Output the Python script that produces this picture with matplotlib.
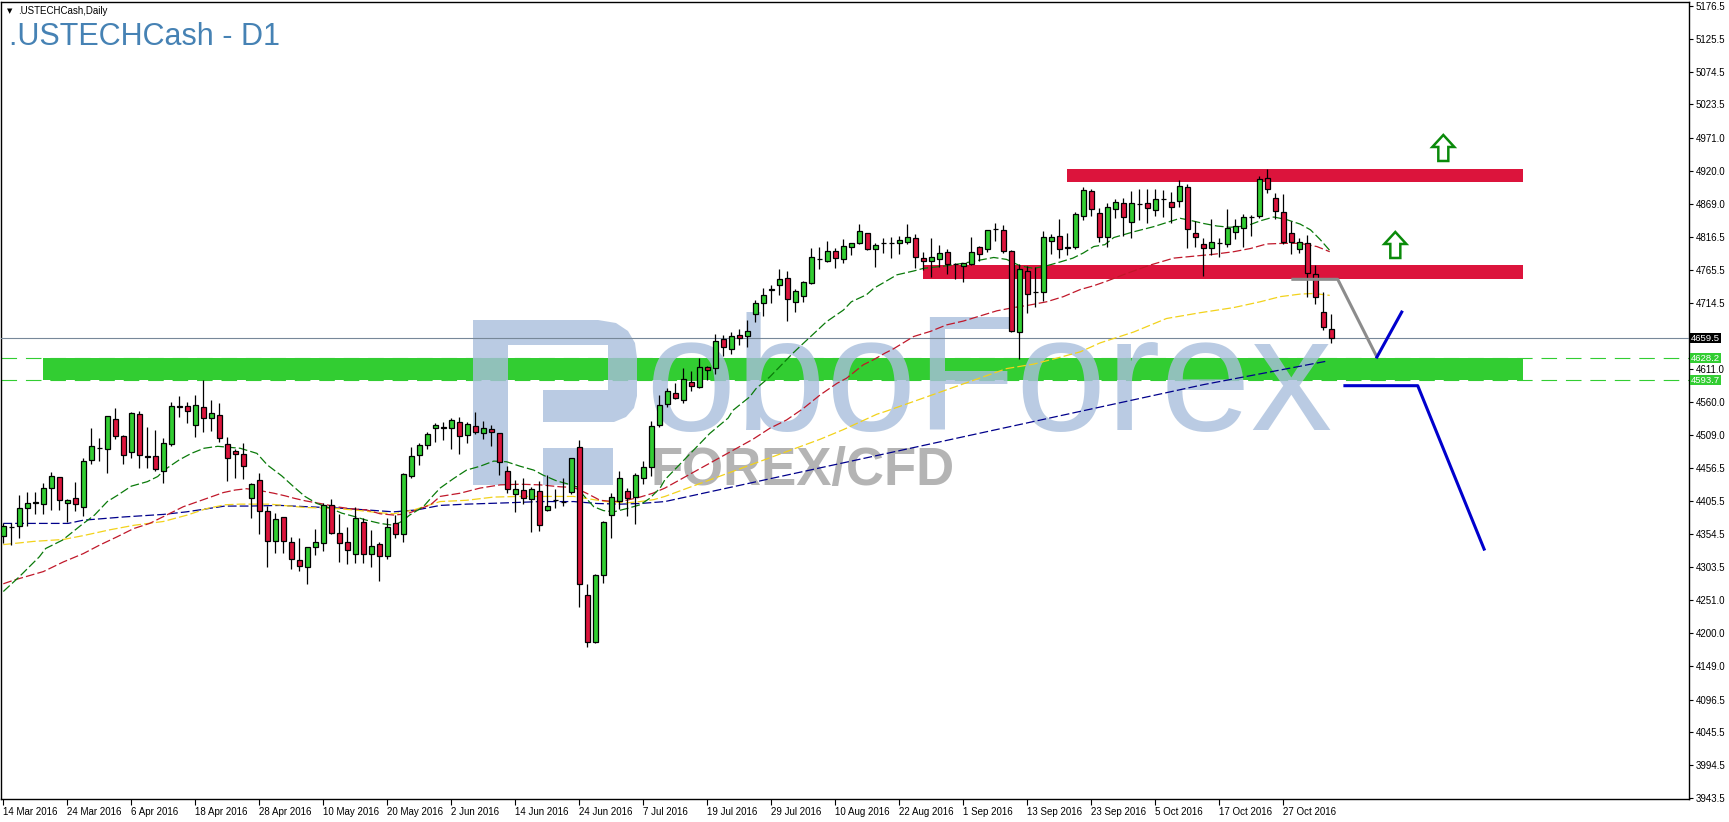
import numpy as np
import matplotlib
matplotlib.use("Agg")
import matplotlib.pyplot as plt
from matplotlib.patches import Rectangle, Polygon

# ---------------- data ----------------
opens = [4351.4, 4365.0, 4366.9, 4394.4, 4402.0, 4400.7, 4425.6, 4442.7, 4402.2, 4410.5,
         4397.0, 4469.2, 4488.5, 4486.3, 4533.0, 4506.5, 4481.6, 4541.3, 4476.0, 4475.4,
         4452.1, 4494.6, 4553.0, 4553.3, 4523.7, 4551.7, 4534.6, 4539.8, 4494.6, 4483.7,
         4478.5, 4410.0, 4438.1, 4389.8, 4344.1, 4380.4, 4342.6, 4314.0, 4302.6, 4334.8,
         4340.0, 4399.1, 4355.5, 4341.5, 4322.8, 4373.7, 4322.8, 4338.9, 4320.2, 4371.1,
         4354.0, 4445.3, 4477.0, 4492.5, 4520.1, 4519.5, 4519.0, 4528.4, 4508.1, 4522.1,
         4511.2, 4517.4, 4511.2, 4452.1, 4416.2, 4422.5, 4408.5, 4421.4, 4392.4, 4407.9,
         4403.8, 4420.4, 4489.4, 4259.0, 4185.8, 4290.1, 4383.5, 4405.9, 4421.9, 4411.6,
         4441.2, 4458.3, 4523.7, 4556.9, 4573.5, 4562.6, 4591.6, 4582.8, 4614.0, 4612.4,
         4657.6, 4642.0, 4663.8, 4662.2, 4696.5, 4713.6, 4735.0, 4741.6, 4752.5, 4716.2,
         4725.5, 4744.8, 4782.0, 4780.0, 4794.6, 4782.1, 4800.8, 4807.0, 4822.6, 4798.7,
         4807.0, 4808.0, 4807.0, 4808.6, 4814.8, 4783.6, 4780.0, 4783.1, 4793.0, 4775.3,
         4772.2, 4774.3, 4800.8, 4797.7, 4828.8, 4827.8, 4795.1, 4668.4, 4763.9, 4731.2,
         4731.7, 4811.2, 4817.9, 4800.3, 4800.8, 4850.1, 4888.5, 4854.7, 4816.3, 4859.9,
         4869.3, 4840.7, 4868.0, 4869.3, 4858.4, 4876.0, 4871.9, 4873.4, 4894.2, 4822.6,
         4805.4, 4800.2, 4807.0, 4805.9, 4825.1, 4830.3, 4847.3, 4850.1, 4908.2, 4877.0,
         4856.3, 4822.6, 4797.6, 4807.0, 4758.7, 4699.5, 4673.1]
highs = [4371.1, 4371.1, 4415.2, 4420.4, 4420.4, 4433.4, 4450.5, 4443.8, 4408.5, 4434.9,
         4472.3, 4519.5, 4504.0, 4538.5, 4550.1, 4508.6, 4545.0, 4546.0, 4521.6, 4515.9,
         4503.4, 4559.5, 4569.4, 4559.5, 4570.9, 4594.3, 4563.1, 4558.4, 4506.0, 4486.3,
         4495.7, 4433.4, 4448.9, 4398.6, 4386.7, 4381.0, 4350.3, 4347.7, 4334.5, 4361.8,
         4403.3, 4409.0, 4385.1, 4365.9, 4396.0, 4378.9, 4360.7, 4341.5, 4379.9, 4383.6,
         4448.9, 4489.4, 4495.7, 4512.8, 4526.8, 4528.4, 4534.6, 4537.2, 4528.4, 4543.9,
         4530.4, 4524.2, 4512.0, 4460.4, 4438.6, 4441.2, 4428.2, 4437.5, 4446.3, 4424.0,
         4441.2, 4472.5, 4500.8, 4276.1, 4291.7, 4374.2, 4418.8, 4453.1, 4425.6, 4448.9,
         4468.1, 4530.4, 4570.9, 4581.3, 4589.0, 4612.4, 4608.8, 4628.0, 4616.6, 4665.3,
         4664.3, 4668.5, 4673.6, 4687.7, 4718.8, 4737.0, 4742.2, 4767.1, 4764.5, 4735.4,
         4748.4, 4799.2, 4801.8, 4810.7, 4799.2, 4813.8, 4808.0, 4837.1, 4823.0, 4808.1,
         4814.8, 4816.3, 4818.4, 4837.1, 4821.5, 4793.0, 4814.8, 4804.4, 4798.2, 4776.9,
         4777.0, 4816.3, 4802.8, 4828.0, 4838.1, 4835.0, 4796.6, 4774.3, 4771.7, 4770.7,
         4826.2, 4821.5, 4844.4, 4823.6, 4856.3, 4895.2, 4891.6, 4861.5, 4869.3, 4875.5,
         4878.1, 4888.5, 4891.1, 4891.1, 4891.1, 4890.0, 4886.4, 4905.6, 4899.4, 4842.3,
         4814.8, 4844.4, 4814.8, 4859.9, 4844.4, 4852.7, 4851.1, 4911.8, 4922.7, 4885.9,
         4883.3, 4842.3, 4814.8, 4820.0, 4773.3, 4730.7, 4696.4]
lows = [4340.0, 4337.4, 4347.7, 4367.5, 4385.1, 4385.6, 4392.4, 4391.9, 4373.7, 4390.8,
        4383.0, 4464.0, 4468.7, 4450.0, 4501.9, 4464.0, 4473.3, 4457.8, 4457.8, 4453.1,
        4433.4, 4492.0, 4536.1, 4527.3, 4506.0, 4513.8, 4515.4, 4498.3, 4437.5, 4442.2,
        4439.6, 4379.9, 4354.0, 4303.6, 4324.4, 4324.4, 4299.5, 4296.9, 4276.1, 4321.8,
        4328.5, 4354.5, 4311.4, 4307.3, 4308.8, 4309.9, 4303.6, 4281.8, 4315.0, 4348.8,
        4342.6, 4442.2, 4462.4, 4487.4, 4497.2, 4500.9, 4486.3, 4478.5, 4495.7, 4510.2,
        4502.4, 4492.0, 4446.3, 4418.8, 4389.3, 4401.2, 4358.1, 4359.7, 4390.8, 4395.5,
        4398.6, 4416.2, 4240.3, 4178.0, 4184.8, 4277.7, 4347.7, 4392.9, 4383.0, 4370.1,
        4431.8, 4445.3, 4521.6, 4551.7, 4564.1, 4557.9, 4577.6, 4582.0, 4594.2, 4603.1,
        4632.1, 4634.2, 4648.7, 4646.1, 4684.0, 4694.4, 4714.6, 4726.6, 4686.6, 4700.6,
        4716.2, 4744.0, 4767.1, 4778.5, 4769.1, 4775.9, 4788.9, 4805.5, 4796.7, 4770.7,
        4792.5, 4784.7, 4790.4, 4805.4, 4769.1, 4765.5, 4755.1, 4769.6, 4758.7, 4751.0,
        4747.3, 4772.7, 4780.0, 4794.0, 4810.6, 4792.5, 4669.5, 4626.9, 4698.0, 4708.4,
        4717.2, 4790.4, 4784.7, 4788.8, 4797.7, 4843.3, 4850.1, 4809.6, 4801.8, 4847.0,
        4818.4, 4814.8, 4843.3, 4839.2, 4850.1, 4848.5, 4838.1, 4864.1, 4800.2, 4801.8,
        4756.6, 4788.8, 4785.2, 4801.8, 4813.2, 4801.8, 4818.4, 4845.9, 4884.8, 4844.4,
        4806.0, 4789.9, 4791.4, 4723.0, 4712.5, 4672.0, 4652.3]
closes = [4367.5, 4366.0, 4394.4, 4402.2, 4403.8, 4425.6, 4444.3, 4407.4, 4406.9, 4400.7,
          4468.1, 4491.0, 4487.9, 4537.7, 4506.5, 4477.0, 4542.9, 4477.0, 4474.9, 4456.2,
          4495.7, 4553.3, 4552.7, 4545.5, 4554.8, 4534.6, 4542.9, 4503.4, 4473.4, 4479.6,
          4460.9, 4431.8, 4389.8, 4343.1, 4377.3, 4344.1, 4316.1, 4305.2, 4333.7, 4341.5,
          4399.6, 4355.5, 4341.0, 4329.1, 4378.9, 4322.8, 4335.8, 4319.7, 4364.9, 4354.0,
          4447.4, 4475.4, 4492.5, 4510.2, 4524.2, 4520.5, 4531.5, 4507.6, 4525.2, 4513.8,
          4519.0, 4512.8, 4466.1, 4424.0, 4424.0, 4411.0, 4424.0, 4368.0, 4398.1, 4408.2,
          4404.0, 4472.3, 4276.1, 4186.8, 4290.1, 4372.6, 4411.6, 4441.2, 4410.0, 4445.8,
          4458.3, 4522.1, 4554.8, 4576.6, 4565.7, 4595.3, 4584.9, 4614.0, 4610.3, 4654.4,
          4645.6, 4662.2, 4659.6, 4670.0, 4713.6, 4726.1, 4735.4, 4751.0, 4719.8, 4733.3,
          4746.8, 4785.2, 4782.1, 4794.6, 4783.7, 4802.4, 4807.6, 4825.7, 4798.7, 4803.9,
          4807.5, 4808.3, 4811.7, 4816.3, 4786.2, 4780.0, 4785.2, 4791.4, 4774.3, 4775.6,
          4775.9, 4793.0, 4790.4, 4827.8, 4829.0, 4795.1, 4671.0, 4766.5, 4727.6, 4731.5,
          4816.3, 4816.3, 4797.7, 4800.5, 4852.7, 4890.0, 4859.9, 4817.4, 4863.0, 4870.8,
          4847.5, 4869.3, 4868.2, 4861.5, 4875.5, 4876.2, 4863.0, 4896.3, 4828.8, 4816.3,
          4800.2, 4808.5, 4807.2, 4830.3, 4834.5, 4847.5, 4847.5, 4906.6, 4891.1, 4857.3,
          4809.6, 4809.6, 4808.5, 4761.3, 4723.0, 4676.2, 4659.5]

date_labels = ["14 Mar 2016", "24 Mar 2016", "6 Apr 2016", "18 Apr 2016", "28 Apr 2016",
               "10 May 2016", "20 May 2016", "2 Jun 2016", "14 Jun 2016", "24 Jun 2016",
               "7 Jul 2016", "19 Jul 2016", "29 Jul 2016", "10 Aug 2016", "22 Aug 2016",
               "1 Sep 2016", "13 Sep 2016", "23 Sep 2016", "5 Oct 2016", "17 Oct 2016",
               "27 Oct 2016"]
label_every = 8

price_ticks = [5176.5, 5125.5, 5074.5, 5023.5, 4971.0, 4920.0, 4869.0, 4816.5, 4765.5,
               4714.5, 4611.0, 4560.0, 4509.0, 4456.5, 4405.5, 4354.5, 4303.5, 4251.0,
               4200.0, 4149.0, 4096.5, 4045.5, 3994.5, 3943.5]

# moving averages (bar index, value) read at sample points
ma_green_x = [0, 2, 4.5, 5.3, 7.4, 9.7, 11.4, 13, 14.3, 16, 18, 19.3, 20.1, 22, 23.5, 25.1,
              26.8, 29.6, 31.7, 33, 34.8, 36.3, 37.7, 39.2, 40.8, 42.3, 43.8, 45.4, 47.1,
              48.8, 49.8, 50.8, 52.5, 53.7, 54.6, 56.3, 57.9, 59.6, 61.3, 62.9, 64.6, 66.3,
              67.5, 69.2, 70.4, 71.7, 72.5, 73.8, 75, 76.3, 77.9, 79.6, 80.8, 82.1, 82.7,
              88.3, 90.6, 91.2, 93.3, 94.1, 95.8, 98.7, 99.8, 101.7, 102.9, 105, 106, 107.9,
              108.8, 110.2, 111.7, 113.8, 115, 117.9, 120, 122.1, 123.8, 125.4, 127.1, 128.8,
              130.4, 132.1, 133.7, 135, 136.3, 137.7, 138.8, 141.3, 143.8, 147.1, 148.3, 150,
              151.7, 153.3, 155.4, 157.1, 158.8, 160.4, 162.1, 163.4, 164.6, 165.8]
ma_green_y = [4265, 4288, 4319, 4332, 4345, 4368, 4384, 4405, 4415, 4429, 4436, 4444, 4454,
              4470, 4480, 4488, 4491, 4488, 4480, 4462, 4445, 4428, 4413, 4402, 4395, 4387,
              4382, 4376, 4371, 4368, 4374, 4384, 4397, 4414, 4426, 4441, 4454, 4460, 4468,
              4467, 4460, 4454, 4446, 4437, 4433, 4428, 4415, 4397, 4391, 4389, 4394, 4400,
              4410, 4426, 4439, 4511, 4535, 4547, 4568, 4581, 4599, 4636, 4649, 4671, 4685,
              4703, 4716, 4727, 4737, 4747, 4758, 4764, 4768, 4772, 4776, 4781, 4785, 4782,
              4772, 4768, 4772, 4778, 4784, 4792, 4802, 4805, 4816, 4825, 4833, 4846, 4843,
              4838, 4834, 4832, 4834, 4842, 4848, 4844, 4837, 4828, 4813, 4796]
ma_red_x = [0, 1.4, 5, 7.5, 10, 12, 14.2, 16.3, 18.3, 20.4, 22.5, 25, 27.5, 29, 30.4, 31.7,
            33.8, 35.2, 36.4, 37.8, 39.6, 41.6, 43.3, 45.4, 47.1, 48.8, 50.5, 51.7, 53.4,
            54.6, 57.1, 59.6, 62.1, 64.6, 67.1, 69.6, 71.3, 72.9, 74.6, 76.3, 77.9, 79.6,
            81.2, 82.7, 93.7, 95.8, 97.9, 100, 102.1, 104.2, 105.4, 107.5, 108.8, 110.2,
            111.3, 113.8, 115.9, 117.9, 120, 122.1, 124.2, 126.3, 128.3, 130.4, 132.5, 134.6,
            136.3, 137.9, 140.4, 143.3, 146.3, 148.8, 151.3, 153.8, 155.9, 157.9, 160, 162.1,
            164.2, 165.8]
ma_red_y = [4277, 4283, 4296, 4311, 4324, 4337, 4350, 4363, 4371, 4384, 4397, 4408, 4419,
            4423, 4425, 4423, 4418, 4414, 4410, 4406, 4402, 4397, 4394, 4392, 4386, 4384,
            4386, 4392, 4400, 4413, 4418, 4426, 4431, 4432, 4431, 4428, 4427, 4418, 4407,
            4405, 4407, 4412, 4418, 4426, 4502, 4519, 4532, 4550, 4571, 4589, 4597, 4618,
            4626, 4636, 4643, 4662, 4670, 4680, 4686, 4694, 4702, 4707, 4711, 4716, 4724,
            4735, 4741, 4748, 4760, 4773, 4784, 4787, 4790, 4794, 4799, 4806, 4807, 4807,
            4802, 4794]
ma_yellow_x = [0, 3.8, 7.5, 10, 13.3, 16.3, 20, 23, 25.4, 27.7, 29.6, 33.3, 37.5, 41.7, 43.8,
               46.7, 48.8, 51.3, 54.6, 57.9, 61.3, 64.6, 67.9, 71.3, 73.8, 75.4, 77.9, 79.6,
               81.3, 82.7, 102.1, 105, 107.1, 109.2, 110.2, 125.4, 128.8, 131.6, 134.6,
               137.1, 141.3, 145.4, 149.6, 153.8, 157.1, 159.6, 162.1, 163.8, 165.8]
ma_yellow_y = [4338, 4343, 4346, 4352, 4361, 4368, 4374, 4384, 4394, 4400, 4401, 4401, 4396,
               4394, 4392, 4388, 4386, 4392, 4405, 4407, 4412, 4413, 4413, 4413, 4408, 4405,
               4403, 4405, 4408, 4413, 4502, 4517, 4529, 4541, 4545, 4612, 4619, 4628, 4638,
               4652, 4669, 4690, 4699, 4707, 4716, 4724, 4728, 4729, 4726]
ma_blue_x = [0, 8.1, 10, 15, 20, 22.9, 27.7, 30.8, 34.6, 37.9, 41.7, 45.4, 48.8, 51.7, 54.6,
             57.9, 62.9, 67.1, 71.3, 74.2, 77.1, 79.6, 82.7, 150, 165.6]
ma_blue_y = [4371, 4371, 4376, 4381, 4385, 4389, 4398, 4398, 4399, 4397, 4395, 4392, 4389,
             4392, 4399, 4401, 4403, 4405, 4405, 4402, 4401, 4402, 4405, 4587, 4624]

# drawn objects
green_zone = (4593.7, 4628.2)
red_zone_low = (4752.0, 4773.0)
red_zone_high = (4903.0, 4922.0)
green_zone_bars = (5.0, 190.0)
red_low_bars = (115.0, 190.0)
red_high_bars = (133.0, 190.0)
last_price = 4659.5
gray_path_x = [161.0, 166.8, 171.7]
gray_path_y = [4751.0, 4751.0, 4630.0]
blue_up_x = [171.7, 174.8]
blue_up_y = [4630.0, 4700.0]
blue_down_x = [167.7, 176.8, 185.1]
blue_down_y = [4585.4, 4585.4, 4331.0]
arrow_tops = [(180.0, 4975.7), (174.0, 4824.7)]

# ---------------- figure ----------------
W, H = 1729, 822
fig = plt.figure(figsize=(W / 100, H / 100), dpi=100)
fig.patch.set_facecolor("white")
ax = fig.add_axes([1 / W, 23 / H, 1688 / W, 797 / H])
ax.set_xlim(-0.29, 210.71)
ax.set_ylim(3941.95, 5182.73)
px_x = 1 / 8.0      # bars per pixel
px_y = 1.5568       # price per pixel


def to_axes(pts):
    # pixel position on the canvas -> axes fraction
    return [((x - 1) / 1688, (799 - y) / 797) for x, y in pts]


# zones (background)
ax.add_patch(Rectangle((green_zone_bars[0], green_zone[0]), green_zone_bars[1] - green_zone_bars[0],
                       green_zone[1] - green_zone[0], color="#32cd32", lw=0, zorder=1))
for (b0, b1), (p0, p1) in [(red_low_bars, red_zone_low), (red_high_bars, red_zone_high)]:
    ax.add_patch(Rectangle((b0, p0), b1 - b0, p1 - p0, color="#dc143c", lw=0, zorder=1))
for lvl in green_zone:
    ax.axhline(lvl, color="#32cd32", lw=0.8, dashes=(14, 8), zorder=0.5)
ax.axhline(last_price, color="#778899", lw=0.8, zorder=3)

# watermark
wm = "#a9bfdc"
ax.text(0.3815, 0.463, "oboForex", transform=ax.transAxes, fontsize=117,
        family="Liberation Sans", color=wm, alpha=0.8, va="baseline", ha="left", zorder=2)
ax.text(0.3845, 0.394, "FOREX/CFD", transform=ax.transAxes, fontsize=38,
        family="Liberation Sans", weight="bold", color="#b4b4b4", va="baseline", ha="left",
        zorder=2)
stem = [(473, 320), (508, 320), (508, 485), (473, 485)]
bowl = [(508, 320), (598, 320), (616, 323), (628, 331), (635, 343), (637, 358), (637, 396),
        (634, 408), (626, 417), (614, 422), (543, 422), (543, 390), (608, 390), (608, 345),
        (508, 345)]
leg = [(543, 448), (613, 448), (613, 485), (543, 485)]
for poly in (stem, bowl, leg):
    ax.add_patch(Polygon(to_axes(poly), closed=True, transform=ax.transAxes, fc=wm,
                         ec="none", alpha=0.8, zorder=2))

# moving averages
ma_dash = (7, 2.5)
ax.plot(ma_blue_x, ma_blue_y, color="#00008b", lw=0.9, dashes=ma_dash, zorder=4)
ax.plot(ma_yellow_x, ma_yellow_y, color="#f2d21b", lw=0.9, dashes=ma_dash, zorder=4)
ax.plot(ma_red_x, ma_red_y, color="#c0182a", lw=0.9, dashes=ma_dash, zorder=4)
ax.plot(ma_green_x, ma_green_y, color="#0a7a0a", lw=0.9, dashes=ma_dash, zorder=4)

# candles
o = np.array(opens)
h = np.array(highs)
l = np.array(lows)
c = np.array(closes)
idx = np.arange(len(c))
ax.vlines(idx, l, h, color="black", lw=0.9, zorder=5)
lo = np.minimum(o, c)
hgt = np.maximum(np.abs(c - o), 0.3)
bull = c >= o
ax.bar(idx[bull], hgt[bull], bottom=lo[bull], width=0.62, color="#32cd32",
       edgecolor="black", linewidth=0.9, zorder=6)
ax.bar(idx[~bull], hgt[~bull], bottom=lo[~bull], width=0.62, color="#dc143c",
       edgecolor="black", linewidth=0.9, zorder=6)

# trend lines
ax.plot(gray_path_x, gray_path_y, color="#8c8c8c", lw=2.2, zorder=7, solid_capstyle="butt")
ax.plot(blue_up_x, blue_up_y, color="#0000cd", lw=2.2, zorder=7)
ax.plot(blue_down_x, blue_down_y, color="#0000cd", lw=2.2, zorder=7)

# hollow up arrows
shape = [(0, 0), (11, 12), (5, 12), (5, 26), (-5, 26), (-5, 12), (-11, 12)]
for bx, py in arrow_tops:
    pts = [(bx + dx * px_x, py - dy * px_y) for dx, dy in shape]
    ax.add_patch(Polygon(pts, closed=True, fc="white", ec="#0a8a0a", lw=1.8, zorder=8))

# axes styling
for s in ax.spines.values():
    s.set_color("black")
    s.set_linewidth(1.0)
ax.yaxis.tick_right()
ax.set_yticks(price_ticks)
ax.set_yticklabels([f"{v:.1f}" for v in price_ticks])
ax.tick_params(axis="y", length=3, width=0.8, pad=2, labelsize=7, colors="black")
for t in ax.get_yticklabels():
    t.set_family("Liberation Sans")
xt = np.arange(len(date_labels)) * label_every
ax.set_xticks(xt)
ax.set_xticklabels(date_labels, ha="left", family="Liberation Sans", fontsize=7)
ax.tick_params(axis="x", length=4, width=0.8, pad=2)


# price tags on the right axis
def tag(val, fc):
    ax.text(1.0012, val, f"{val:.1f}", transform=ax.get_yaxis_transform(), ha="left",
            va="center", fontsize=6.8, family="Liberation Sans", color="white", zorder=10,
            bbox=dict(boxstyle="square,pad=0.06", fc=fc, ec="none"), clip_on=False)


tag(last_price, "black")
tag(green_zone[1], "#32cd32")
tag(green_zone[0], "#32cd32")

# titles
fig.text(7 / W, 1 - 11 / H, "\u25bc", fontsize=5, va="center", ha="left", color="black")
fig.text(18 / W, 1 - 11 / H, ".USTECHCash,Daily", fontsize=7, family="Liberation Sans",
         va="center", ha="left", color="black")
fig.text(9 / W, 1 - 45 / H, ".USTECHCash - D1", fontsize=22, family="Liberation Sans",
         va="baseline", ha="left", color="#4682b4")

fig.savefig("out.png", dpi=100, facecolor="white")
